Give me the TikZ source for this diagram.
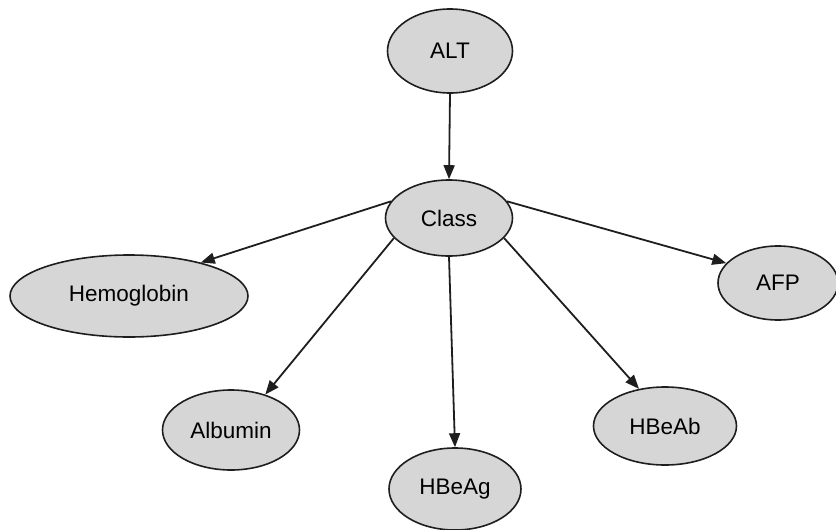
\documentclass[tikz,border=0pt]{standalone}
\usepackage{fontspec}
\setmainfont{Liberation Sans}
\usetikzlibrary{shapes.geometric,arrows.meta}
\definecolor{nodefill}{RGB}{214,214,214}
\definecolor{inkline}{RGB}{30,30,30}
\begin{document}
\begin{tikzpicture}[x=1pt,y=-1pt,
  var/.style={ellipse,draw=inkline,line width=1.6pt,fill=nodefill,
    inner sep=0pt,font=\fontsize{22.5}{26}\selectfont},
  link/.style={draw=inkline,line width=1.8pt,-{Triangle[length=14pt,width=11pt]}}]
\useasboundingbox (0,0) rectangle (836,530);
% variables
\node[var,minimum width=125pt,minimum height=84pt] (alt)   at (450,51)  {ALT};
\node[var,minimum width=127pt,minimum height=76pt] (class) at (449,218) {Class};
\node[var,minimum width=238pt,minimum height=82pt] (hemo)  at (129,296) {Hemoglobin};
\node[var,minimum width=120pt,minimum height=74pt] (afp)   at (778,283) {AFP};
\node[var,minimum width=137pt,minimum height=80pt] (alb)   at (231,430) {Albumin};
\node[var,minimum width=132pt,minimum height=82pt] (hbeag) at (455,489) {HBeAg};
\node[var,minimum width=143pt,minimum height=78pt] (hbeab) at (665,426) {HBeAb};
% dependencies
\draw[link] (alt.south) -- (class.north);
\draw[link] (class.164) -- (hemo.25);
\draw[link] (class.200) -- (alb.46);
\draw[link] (class.south) -- (hbeag.north);
\draw[link] (class.340) -- (hbeab.125);
\draw[link] (class.16) -- (afp.159);
\end{tikzpicture}
\end{document}
